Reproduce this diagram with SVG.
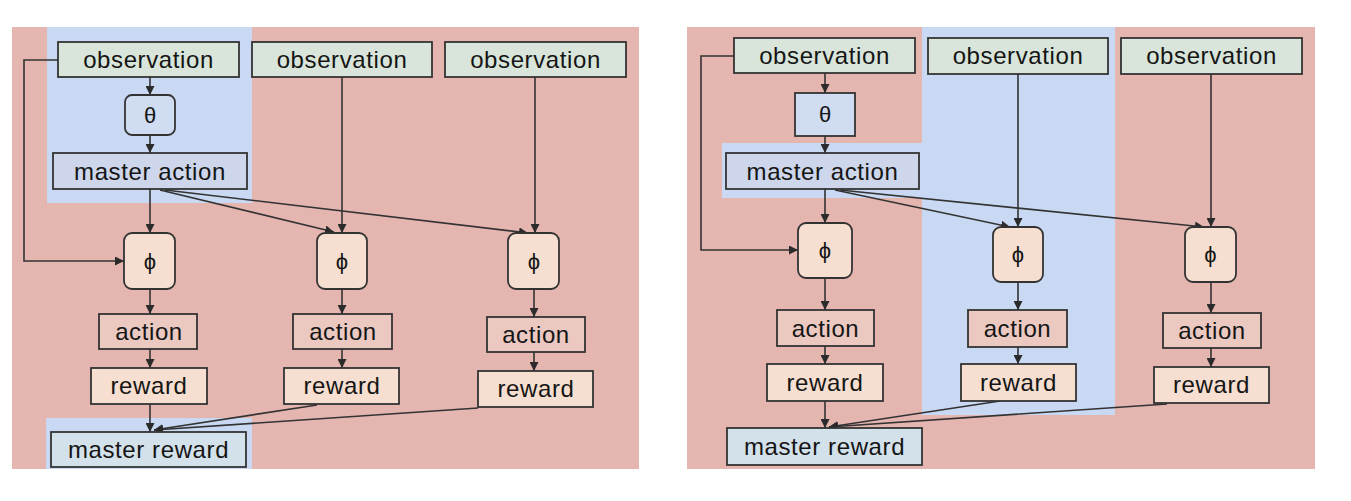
<svg xmlns="http://www.w3.org/2000/svg" width="1351" height="501" viewBox="0 0 1351 501">
<defs>
<marker id="ah" viewBox="0 0 10 10" refX="10" refY="5" markerWidth="9" markerHeight="9" markerUnits="userSpaceOnUse" orient="auto">
<path d="M0,0 L10,5 L0,10 z" fill="#2b2b2b"/>
</marker>
<style>
.bgp{fill:#e5b5b0}
.bgb{fill:#c9d9f3}
.box{stroke:#333;stroke-width:1.8}
.obs{fill:#d9e5da}
.pea{fill:#f6dfd0}
.act{fill:#ebc9c1}
.mac{fill:#cdd6ea}
.th{fill:#cfdcf2}
.mr{fill:#d3e1ea}
text{font-family:"Liberation Sans",Arial,sans-serif;font-size:24px;fill:#151515;text-anchor:middle;letter-spacing:0.6px}
.g{font-size:22px;letter-spacing:0}
.c{fill:none;stroke:#333;stroke-width:1.6}
</style>
</defs>
<rect width="1351" height="501" fill="#ffffff"/>
<!-- Left panel backgrounds -->
<rect class="bgp" x="12" y="27" width="627" height="442"/>
<rect class="bgb" x="47" y="27" width="205" height="176"/>
<rect class="bgb" x="46" y="418" width="206" height="51"/>
<!-- Right panel backgrounds -->
<rect class="bgp" x="687" y="27" width="628" height="442"/>
<rect class="bgb" x="922" y="27" width="193" height="388"/>
<rect class="bgb" x="722" y="143" width="200" height="55"/>

<g id="connectors">
<!-- left panel -->
<line class="c" x1="150" y1="77" x2="150" y2="95" marker-end="url(#ah)"/>
<line class="c" x1="150" y1="135" x2="150" y2="153" marker-end="url(#ah)"/>
<polyline class="c" points="58,60 24,60 24,261 124,261" marker-end="url(#ah)"/>
<line class="c" x1="150" y1="189" x2="150" y2="233" marker-end="url(#ah)"/>
<line class="c" x1="160" y1="190" x2="334" y2="232" marker-end="url(#ah)"/>
<line class="c" x1="165" y1="190" x2="528" y2="233" marker-end="url(#ah)"/>
<line class="c" x1="342" y1="77" x2="342" y2="233" marker-end="url(#ah)"/>
<line class="c" x1="535" y1="77" x2="535" y2="233" marker-end="url(#ah)"/>
<line class="c" x1="150" y1="289" x2="150" y2="314" marker-end="url(#ah)"/>
<line class="c" x1="342" y1="289" x2="342" y2="314" marker-end="url(#ah)"/>
<line class="c" x1="534" y1="289" x2="534" y2="317" marker-end="url(#ah)"/>
<line class="c" x1="150" y1="349" x2="150" y2="368" marker-end="url(#ah)"/>
<line class="c" x1="342" y1="349" x2="342" y2="368" marker-end="url(#ah)"/>
<line class="c" x1="534" y1="352" x2="534" y2="371" marker-end="url(#ah)"/>
<line class="c" x1="150" y1="404" x2="150" y2="432" marker-end="url(#ah)"/>
<line class="c" x1="317" y1="405" x2="154" y2="430" marker-end="url(#ah)"/>
<line class="c" x1="478" y1="408" x2="154" y2="430" marker-end="url(#ah)"/>
<!-- right panel -->
<line class="c" x1="825" y1="73" x2="825" y2="93" marker-end="url(#ah)"/>
<line class="c" x1="825" y1="136" x2="825" y2="153" marker-end="url(#ah)"/>
<polyline class="c" points="734,56 701,56 701,250 798,250" marker-end="url(#ah)"/>
<line class="c" x1="825" y1="189" x2="825" y2="223" marker-end="url(#ah)"/>
<line class="c" x1="835" y1="190" x2="1010" y2="227" marker-end="url(#ah)"/>
<line class="c" x1="840" y1="190" x2="1204" y2="227" marker-end="url(#ah)"/>
<line class="c" x1="1018" y1="74" x2="1018" y2="227" marker-end="url(#ah)"/>
<line class="c" x1="1211" y1="74" x2="1211" y2="227" marker-end="url(#ah)"/>
<line class="c" x1="825" y1="278" x2="825" y2="310" marker-end="url(#ah)"/>
<line class="c" x1="1018" y1="282" x2="1018" y2="310" marker-end="url(#ah)"/>
<line class="c" x1="1211" y1="282" x2="1211" y2="313" marker-end="url(#ah)"/>
<line class="c" x1="825" y1="346" x2="825" y2="364" marker-end="url(#ah)"/>
<line class="c" x1="1018" y1="347" x2="1018" y2="364" marker-end="url(#ah)"/>
<line class="c" x1="1211" y1="348" x2="1211" y2="367" marker-end="url(#ah)"/>
<line class="c" x1="825" y1="401" x2="825" y2="428" marker-end="url(#ah)"/>
<line class="c" x1="1000" y1="401" x2="829" y2="427" marker-end="url(#ah)"/>
<line class="c" x1="1167" y1="404" x2="829" y2="427" marker-end="url(#ah)"/>
</g>

<!-- Left panel nodes -->
<g id="L-obs1"><rect class="box obs" x="58" y="42" width="181" height="35"/><text x="148.5" y="68">observation</text></g>
<g id="L-obs2"><rect class="box obs" x="252" y="42" width="180" height="35"/><text x="342" y="68">observation</text></g>
<g id="L-obs3"><rect class="box obs" x="445" y="42" width="181" height="35"/><text x="535.5" y="68">observation</text></g>
<g id="L-theta"><rect class="box th" x="125" y="95" width="50" height="40" rx="7"/><text class="g" x="150" y="123">θ</text></g>
<g id="L-master-action"><rect class="box mac" x="53" y="153" width="194" height="36"/><text x="150" y="180">master action</text></g>
<g id="L-phi1"><rect class="box pea" x="124" y="233" width="51" height="56" rx="8"/><text class="g" x="150" y="269">ϕ</text></g>
<g id="L-phi2"><rect class="box pea" x="317" y="233" width="50" height="56" rx="8"/><text class="g" x="342" y="269">ϕ</text></g>
<g id="L-phi3"><rect class="box pea" x="508" y="233" width="51" height="56" rx="8"/><text class="g" x="534" y="269">ϕ</text></g>
<g id="L-action1"><rect class="box act" x="99" y="314" width="98" height="35"/><text x="149" y="340">action</text></g>
<g id="L-action2"><rect class="box act" x="293" y="314" width="99" height="35"/><text x="343" y="340">action</text></g>
<g id="L-action3"><rect class="box act" x="487" y="317" width="98" height="35"/><text x="536" y="343">action</text></g>
<g id="L-reward1"><rect class="box pea" x="91" y="368" width="116" height="36"/><text x="149" y="394">reward</text></g>
<g id="L-reward2"><rect class="box pea" x="284" y="368" width="115" height="36"/><text x="342" y="394">reward</text></g>
<g id="L-reward3"><rect class="box pea" x="478" y="371" width="115" height="36"/><text x="536" y="397">reward</text></g>
<g id="L-master-reward"><rect class="box mr" x="51" y="432" width="195" height="35"/><text x="148.5" y="458">master reward</text></g>

<!-- Right panel nodes -->
<g id="R-obs1"><rect class="box obs" x="734" y="38" width="181" height="35"/><text x="824.5" y="64">observation</text></g>
<g id="R-obs2"><rect class="box obs" x="928" y="38" width="180" height="36"/><text x="1018" y="64">observation</text></g>
<g id="R-obs3"><rect class="box obs" x="1121" y="38" width="181" height="36"/><text x="1211.5" y="64">observation</text></g>
<g id="R-theta"><rect class="box th" x="795" y="93" width="60" height="43"/><text class="g" x="825" y="122">θ</text></g>
<g id="R-master-action"><rect class="box mac" x="726" y="153" width="193" height="36"/><text x="822.5" y="180">master action</text></g>
<g id="R-phi1"><rect class="box pea" x="798" y="223" width="54" height="55" rx="8"/><text class="g" x="825" y="258">ϕ</text></g>
<g id="R-phi2"><rect class="box pea" x="993" y="227" width="50" height="55" rx="8"/><text class="g" x="1018" y="262">ϕ</text></g>
<g id="R-phi3"><rect class="box pea" x="1185" y="227" width="51" height="55" rx="8"/><text class="g" x="1210.5" y="262">ϕ</text></g>
<g id="R-action1"><rect class="box act" x="777" y="310" width="97" height="36"/><text x="825.5" y="337">action</text></g>
<g id="R-action2"><rect class="box act" x="968" y="310" width="99" height="37"/><text x="1017.5" y="337">action</text></g>
<g id="R-action3"><rect class="box act" x="1163" y="313" width="98" height="35"/><text x="1212" y="339">action</text></g>
<g id="R-reward1"><rect class="box pea" x="767" y="364" width="116" height="37"/><text x="825" y="391">reward</text></g>
<g id="R-reward2"><rect class="box pea" x="961" y="364" width="115" height="37"/><text x="1018.5" y="391">reward</text></g>
<g id="R-reward3"><rect class="box pea" x="1154" y="367" width="115" height="36"/><text x="1211.5" y="393">reward</text></g>
<g id="R-master-reward"><rect class="box mr" x="727" y="428" width="195" height="37"/><text x="824.5" y="455">master reward</text></g>
</svg>
